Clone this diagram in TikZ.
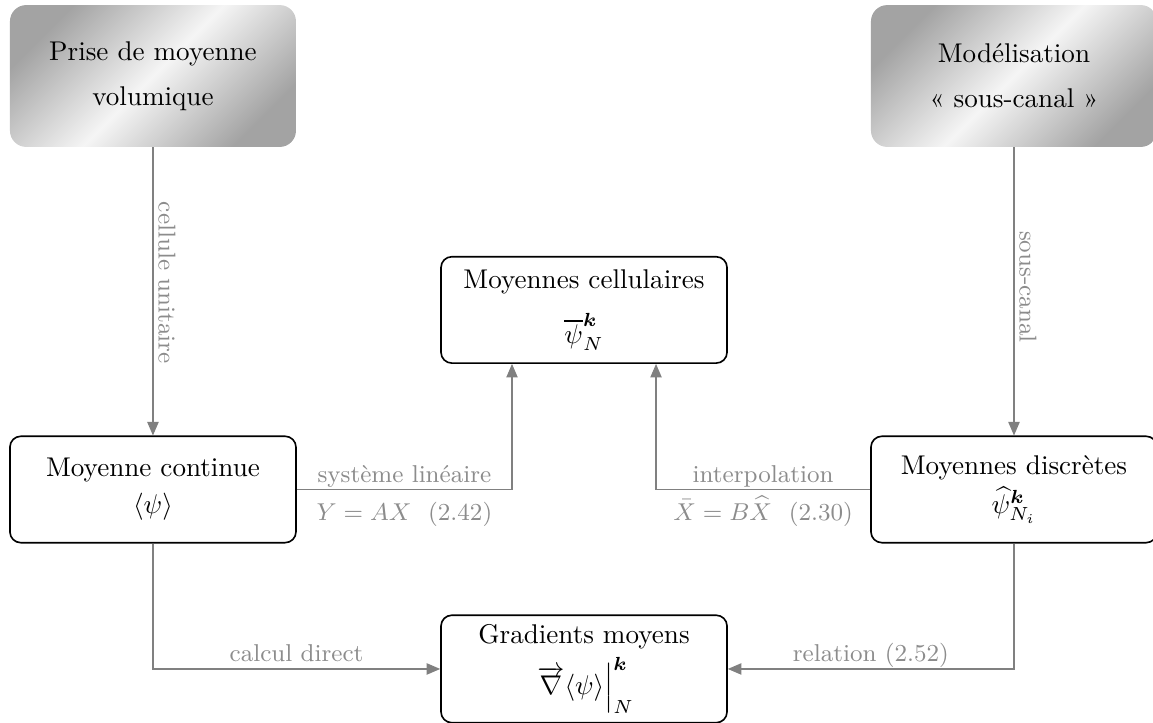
\documentclass[tikz,border=0pt]{standalone}
\usepackage{amsmath,amssymb}
\usepackage{tikz}
\usetikzlibrary{arrows.meta}

\tikzset{
  source/.style={rounded corners=6pt, minimum width=3.71cm, minimum height=1.84cm, align=center,
    left color=black!36, right color=black!36, middle color=black!4, shading angle=45},
  result/.style={draw, semithick, rounded corners=4pt, minimum width=3.71cm, minimum height=1.38cm,
    align=center, fill=white},
  link/.style={draw=black!50, -{Triangle[length=5pt,width=4.2pt]}},
  lbl/.style={font=\small, text=black!45, inner sep=0pt},
}

\begin{document}
\begin{tikzpicture}
    \useasboundingbox (0,0) rectangle (14.955,-9.365);

    % Modelling approaches
    \node[source] (vol) at (1.984,-0.986) {Prise de moyenne\\[4.6pt]volumique};
    \node[source] (sc) at (13.152,-0.986) {Modélisation\\[4.6pt]«~sous-canal~»};

    % Averaged quantities
    \node[result] (cell) at (7.575,-4.02) {Moyennes cellulaires\\[6pt]$\overline{\psi}^{\boldsymbol{k}}_N$};
    \node[result] (cont) at (1.984,-6.349) {Moyenne continue\\[1.7pt]$\langle\psi\rangle$};
    \node[result] (disc) at (13.152,-6.349) {Moyennes discrètes\\[2.4pt]$\widehat{\psi}^{\boldsymbol{k}}_{N_i}$};
    \node[result] (grad) at (7.575,-8.677) {Gradients moyens\\[2pt]$\left.\overrightarrow{\nabla}\langle\psi\rangle\right|^{\boldsymbol{k}}_N$};

    % Vertical links
    \draw[link] (vol) -- node[lbl, rotate=-90, anchor=south, inner sep=1.8pt, pos=0.47] {cellule unitaire} (cont);
    \draw[link] (sc) -- node[lbl, rotate=-90, anchor=south, inner sep=1.8pt, pos=0.484] {sous-canal} (disc);

    % Links to cell averages
    \draw[link] (cont.east) -| node[lbl, pos=0.25, anchor=base, yshift=2.6pt] {système linéaire}
        node[lbl, pos=0.25, anchor=base, yshift=-11.3pt] {$Y = AX$~~(2.42)} ([xshift=-0.934cm]cell.south);
    \draw[link] (disc.west) -| node[lbl, pos=0.25, anchor=base, yshift=2.6pt] {interpolation}
        node[lbl, pos=0.25, anchor=base, yshift=-11.3pt] {$\bar{X} = B\widehat{X}$~~(2.30)} ([xshift=0.934cm]cell.south);

    % Links to gradients
    \draw[link] (cont.south) |- node[lbl, pos=0.75, anchor=base, yshift=2.6pt] {calcul direct} (grad.west);
    \draw[link] (disc.south) |- node[lbl, pos=0.75, anchor=base, yshift=2.6pt] {relation (2.52)} (grad.east);
\end{tikzpicture}
\end{document}
